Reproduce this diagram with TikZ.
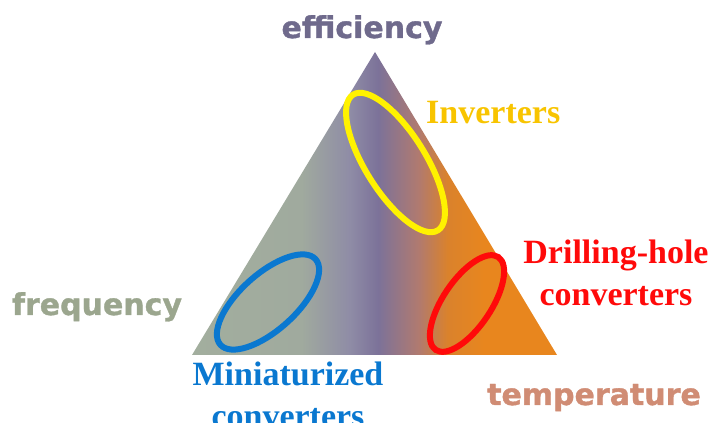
\documentclass[tikz,border=0pt]{standalone}
\usepackage{xcolor}
\usepackage{fontspec}
\usepackage{tikz}
\setmainfont{Liberation Serif}
\newfontfamily\TRsans{DejaVu Sans}[BoldFeatures={FakeBold=1.2}]
\definecolor{TRSage}{HTML}{A2AE9E}
\definecolor{TRSageGray}{HTML}{A0AA9E}
\definecolor{TRLilac}{HTML}{8F8CA6}
\definecolor{TRPurple}{HTML}{7C7299}
\definecolor{TRBrown}{HTML}{B07A70}
\definecolor{TROrangeDark}{HTML}{DA822C}
\definecolor{TROrange}{HTML}{E8861E}
\definecolor{TREff}{HTML}{6F6A8C}
\definecolor{TRFreq}{HTML}{9BA68E}
\definecolor{TRTemp}{HTML}{D08C74}
\definecolor{TRYellow}{HTML}{FFF200}
\definecolor{TRGold}{HTML}{F8C400}
\definecolor{TRBlue}{HTML}{0A78D0}
\definecolor{TRRed}{HTML}{FF0A0A}
\pgfdeclarehorizontalshading{triShade}{100bp}{color(0bp)=(TRSage); color(25bp)=(TRSage);
  color(40bp)=(TRSageGray); color(46.6bp)=(TRLilac); color(50.5bp)=(TRPurple);
  color(56bp)=(TRBrown); color(60bp)=(TROrangeDark); color(65bp)=(TROrange); color(100bp)=(TROrange)}

\begin{document}
\begin{tikzpicture}[x=1pt,y=1pt,
  axislabel/.style={inner sep=0pt,font=\TRsans\bfseries\fontsize{30}{30}\selectfont},
  zonelabel/.style={inner sep=0pt,align=center,font=\bfseries\fontsize{34}{42}\selectfont},
  zonering/.style={line width=6pt}]
\path[use as bounding box] (0,0) rectangle (724,423);
\clip (0,0) rectangle (724,423);
% triangle
\coordinate (top) at (375,371);
\coordinate (left) at (192,68);
\coordinate (right) at (557,68);
\shade[shading=triShade] (top) -- (left) -- (right) -- cycle;
% rings
\draw[zonering,TRYellow,rotate around={122:(395.5,260.5)}] (395.5,260.5) ellipse [x radius=80,y radius=30];
\draw[zonering,TRBlue,rotate around={42:(268,121)}] (268,121) ellipse [x radius=64,y radius=28];
\draw[zonering,TRRed,rotate around={56:(467,119.5)}] (467,119.5) ellipse [x radius=56,y radius=24];
% corner labels
\node[axislabel,TREff,anchor=base] (eff) at (362,385) {efficiency};
\node[axislabel,TRFreq,anchor=base] (freq) at (97,108) {frequency};
\node[axislabel,TRTemp,anchor=base] (temp) at (594,18) {temperature};
% zone labels
\node[zonelabel,TRGold,anchor=base west] (inv) at (426,299) {Inverters};
\node[zonelabel,TRRed,anchor=north] (drill) at (616,183) {Drilling-hole\\converters};
\node[zonelabel,TRBlue,anchor=north] (mini) at (288,61) {Miniaturized\\converters};
\end{tikzpicture}
\end{document}
